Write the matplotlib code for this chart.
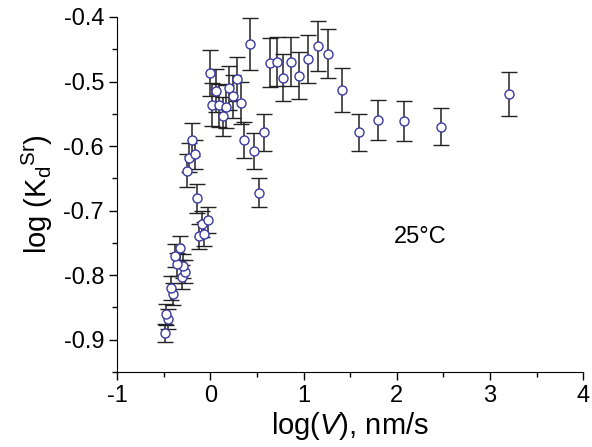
import matplotlib as mpl
import matplotlib.pyplot as plt
import numpy as np

# Werte
log_v = [-0.485, -0.453, -0.474, -0.40, -0.42, -0.31, -0.27, -0.29, -0.36, -0.38,
         -0.33, -0.12, -0.07, -0.09, -0.03, -0.14, -0.25, -0.23, -0.17, -0.20,
         0.00, 0.06, 0.02, 0.09, 0.17, 0.13, 0.20, 0.24, 0.29, 0.33,
         0.42, 0.36, 0.47, 0.58, 0.52,
         0.64, 0.72, 0.78, 0.86, 0.95, 1.05, 1.15, 1.26, 1.41, 1.59,
         1.80, 2.08, 2.48, 3.20]
log_kd = [-0.889, -0.868, -0.861, -0.830, -0.820, -0.803, -0.795, -0.786, -0.783, -0.770,
          -0.758, -0.740, -0.736, -0.721, -0.715, -0.681, -0.638, -0.618, -0.613, -0.590,
          -0.487, -0.514, -0.536, -0.537, -0.539, -0.554, -0.510, -0.523, -0.496, -0.533,
          -0.442, -0.590, -0.608, -0.579, -0.672,
          -0.471, -0.469, -0.494, -0.469, -0.491, -0.465, -0.445, -0.457, -0.513, -0.579,
          -0.559, -0.561, -0.570, -0.520]
err = [0.014, 0.016, 0.016, 0.017, 0.018, 0.018, 0.018, 0.018, 0.018, 0.018,
       0.019, 0.019, 0.019, 0.020, 0.020, 0.022, 0.025, 0.022, 0.022, 0.025,
       0.036, 0.033, 0.033, 0.033, 0.033, 0.030, 0.034, 0.033, 0.034, 0.033,
       0.040, 0.028, 0.028, 0.029, 0.023,
       0.038, 0.038, 0.036, 0.038, 0.036, 0.037, 0.039, 0.038, 0.034, 0.029,
       0.031, 0.031, 0.029, 0.034]

mpl.rc('font', family='Liberation Sans', size=17)
mpl.rcParams['axes.unicode_minus'] = False
mpl.rcParams['mathtext.fontset'] = 'custom'
mpl.rcParams['mathtext.rm'] = 'Liberation Sans'
mpl.rcParams['mathtext.it'] = 'Liberation Sans:italic'

fig = plt.figure(figsize=(5.92, 4.47), dpi=100)
ax = fig.add_axes([0.198, 0.168, 0.787, 0.794])

ax.errorbar(log_v, log_kd, yerr=err, fmt='o', color='#222222', ecolor='#222222',
            elinewidth=1.1, capsize=5.5, capthick=1.1,
            markersize=6.5, markerfacecolor='white', markeredgecolor='#3a3aa0',
            markeredgewidth=1.0)

ax.set_xlim(-1, 4)
ax.set_ylim(-0.948, -0.4)
ax.set_xticks([-1, 0, 1, 2, 3, 4])
ax.set_yticks([-0.9, -0.8, -0.7, -0.6, -0.5, -0.4])
ax.set_yticklabels(['-0.9', '-0.8', '-0.7', '-0.6', '-0.5', '-0.4'])
ax.set_xticks(np.arange(-0.5, 4, 1), minor=True)
ax.set_yticks(np.arange(-0.95, -0.4, 0.1), minor=True)

ax.spines['top'].set_visible(False)
ax.spines['right'].set_visible(False)
ax.tick_params(which='major', direction='out', length=6, width=1)
ax.tick_params(which='minor', direction='out', length=3.5, width=1)

ax.set_xlabel(r'log($\mathit{V}$), nm/s', fontsize=21, labelpad=2)
ax.set_ylabel(r'log (K$_\mathregular{d}$$^\mathregular{Sr}$)', fontsize=21, labelpad=6)

ax.text(1.97, -0.741, '25°C', fontsize=17, va='center', ha='left')

plt.savefig('out.png', dpi=100)
